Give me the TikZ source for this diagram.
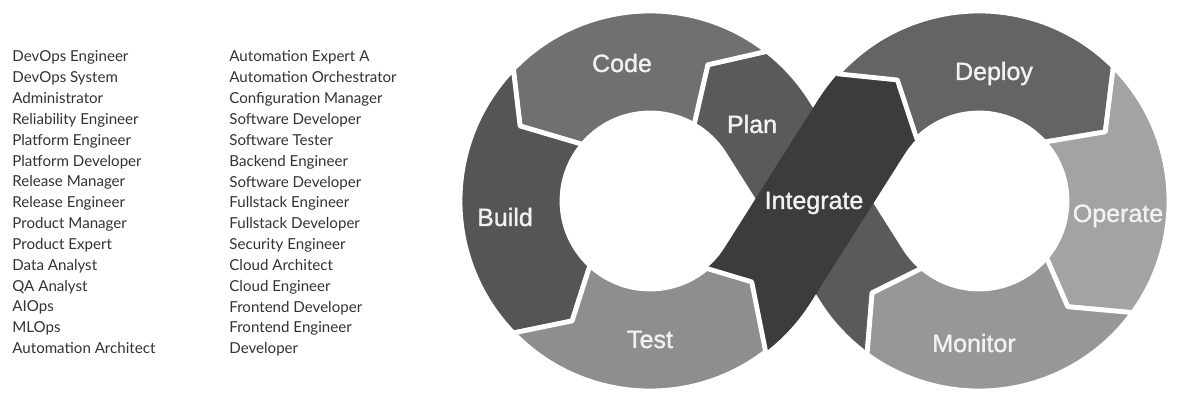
\documentclass[tikz,border=0pt]{standalone}
\usepackage{fontspec}
\setmainfont{Lato}
\newfontfamily\stagefont[FakeBold=1.2]{Liberation Sans}
\usepackage{xcolor}
\usepackage{tikz}
\usetikzlibrary{calc}
\definecolor{rolegray}{HTML}{333333}
\definecolor{codegray}{HTML}{707070}
\definecolor{buildgray}{HTML}{555555}
\definecolor{testgray}{HTML}{8E8E8E}
\definecolor{plangray}{HTML}{5A5A5A}
\definecolor{intgray}{HTML}{3C3C3C}
\definecolor{deploygray}{HTML}{646464}
\definecolor{operategray}{HTML}{A3A3A3}
\definecolor{monitorgray}{HTML}{979797}
\tikzset{
  stage/.style={draw=white, line width=2.4pt, line join=round},
  stagelbl/.style={anchor=base, inner sep=0pt, text=white!95!black,
                   font=\stagefont\fontsize{12.5}{15}\selectfont},
  rolecol/.style={anchor=north west, align=left, inner sep=0pt, text=rolegray,
                  font=\fontsize{7.55}{10.42}\selectfont}
}

\begin{document}
\begin{tikzpicture}[x=0.5pt, y=0.5pt]
  \path[use as bounding box, fill=white] (0,0) rectangle (1200,401);
  \coordinate (L) at (650,200);
  \coordinate (R) at (979,200);
  % band under the crossing
  \path[stage, fill=plangray] ($(L)+(52:190)$) -- ($(L)+(67:148)$) -- ($(L)+(60:88)$)
    arc[start angle=60, end angle=32.33, radius=88]
    -- ($(R)+(212.33:190)$) arc[start angle=212.33, end angle=233.9, radius=190]
    -- ($(R)+(220.7:141)$) -- ($(R)+(229.7:88)$)
    arc[start angle=229.7, end angle=212.33, radius=88]
    -- ($(L)+(32.33:190)$) arc[start angle=32.33, end angle=52, radius=190] -- cycle;
  % band over the crossing
  \fill[intgray] ($(L)+(-52.5:190)$) arc[start angle=-52.5, end angle=-32.33, radius=190]
    -- ($(R)+(147.67:88)$) arc[start angle=147.67, end angle=135, radius=88]
    -- ($(R)+(124:146)$) -- ($(R)+(138:190)$)
    arc[start angle=138, end angle=147.67, radius=190]
    -- ($(L)+(-32.33:88)$) arc[start angle=-32.33, end angle=-50, radius=88]
    -- ($(L)+(-38.5:130)$) -- cycle;
  % left ring
  \path[stage, fill=codegray] ($(L)+(52:190)$) arc[start angle=52, end angle=136, radius=190]
    -- ($(L)+(150:150)$) -- ($(L)+(140:88)$) arc[start angle=140, end angle=60, radius=88]
    -- ($(L)+(67:148)$) -- cycle;
  \path[stage, fill=buildgray] ($(L)+(136:190)$) arc[start angle=136, end angle=224, radius=190]
    -- ($(L)+(237:143)$) -- ($(L)+(227:88)$) arc[start angle=227, end angle=140, radius=88]
    -- ($(L)+(150:150)$) -- cycle;
  \path[stage, fill=testgray] ($(L)+(224:190)$) arc[start angle=224, end angle=307.5, radius=190]
    -- ($(L)+(321.5:130)$) -- ($(L)+(310:88)$) arc[start angle=310, end angle=227, radius=88]
    -- ($(L)+(237:143)$) -- cycle;
  % right ring
  \path[stage, fill=deploygray] ($(R)+(138:190)$) arc[start angle=138, end angle=45, radius=190]
    -- ($(R)+(28.7:144)$) -- ($(R)+(42:88)$) arc[start angle=42, end angle=135, radius=88]
    -- ($(R)+(124:146)$) -- cycle;
  \path[stage, fill=operategray] ($(R)+(45:190)$) arc[start angle=45, end angle=-36, radius=190]
    -- ($(R)+(-50:138)$) -- ($(R)+(-40:88)$) arc[start angle=-40, end angle=42, radius=88]
    -- ($(R)+(28.7:144)$) -- cycle;
  \path[stage, fill=monitorgray] ($(R)+(-36:190)$) arc[start angle=-36, end angle=-126.1, radius=190]
    -- ($(R)+(-139.3:141)$) -- ($(R)+(-130.3:88)$) arc[start angle=-130.3, end angle=-40, radius=88]
    -- ($(R)+(-50:138)$) -- cycle;
  % stage labels
  \node[stagelbl] (code) at (622,329) {Code};
  \node[stagelbl] (plan) at (752,268) {Plan};
  \node[stagelbl] (build) at (505,175) {Build};
  \node[stagelbl] (test) at (650,53) {Test};
  \node[stagelbl] (integrate) at (814,192) {Integrate};
  \node[stagelbl] (deploy) at (994,321) {Deploy};
  \node[stagelbl] (operate) at (1118,179) {Operate};
  \node[stagelbl] (monitor) at (974,49) {Monitor};
  % role lists
  \node[rolecol] (rolesA) at (12,350.5) {DevOps Engineer\\DevOps System\\Administrator\\
    Reliability Engineer\\Platform Engineer\\Platform Developer\\Release Manager\\
    Release Engineer\\Product Manager\\Product Expert\\Data Analyst\\QA Analyst\\
    AIOps\\MLOps\\Automation Architect};
  \node[rolecol] (rolesB) at (229,350.5) {Automation Expert A\\Automation Orchestrator\\
    Configuration Manager\\Software Developer\\Software Tester\\Backend Engineer\\
    Software Developer\\Fullstack Engineer\\Fullstack Developer\\Security Engineer\\
    Cloud Architect\\Cloud Engineer\\Frontend Developer\\Frontend Engineer\\Developer};
\end{tikzpicture}
\end{document}
